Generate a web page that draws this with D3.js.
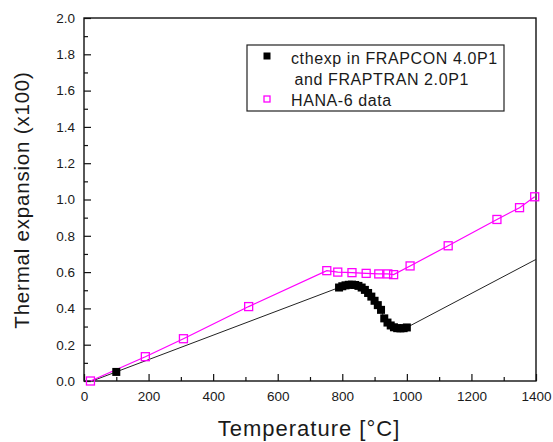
<!DOCTYPE html>
<html>
<head>
<meta charset="utf-8">
<script src="https://cdn.jsdelivr.net/npm/d3@7"></script>
<style>
  html, body { margin: 0; padding: 0; background: #fff; }
  svg { display: block; font-family: "Liberation Sans", Arial, sans-serif; }
</style>
</head>
<body>
<svg id="chart" width="553" height="442"></svg>
<script>
// FRAPCON / FRAPTRAN cthexp model: straight segments outside the phase-transition band
const cthexpLineTemp = [25, 790];
const cthexpLineValue = [0.0, 0.515];
const cthexpLineTemp2 = [1000, 1400];
const cthexpLineValue2 = [0.295, 0.67];

// cthexp model points shown with markers (low-temperature point and transition band)
const cthexpTemp = [100,
  790, 800, 810, 820, 830, 840, 850, 860, 870, 880, 890, 900, 910, 920,
  930, 940, 950, 960, 970, 980, 990, 1000];
const cthexpValue = [0.05,
  0.515, 0.522, 0.527, 0.530, 0.531, 0.529, 0.524, 0.515, 0.502, 0.485, 0.465, 0.442, 0.418, 0.392,
  0.345, 0.322, 0.306, 0.296, 0.291, 0.290, 0.291, 0.295];

// HANA-6 measured data
const hanaTemp = [20, 190, 308, 510, 752, 786, 830, 874, 913, 941, 959, 1010, 1128, 1279, 1349, 1396];
const hanaValue = [0.0, 0.134, 0.233, 0.41, 0.608, 0.60, 0.597, 0.593, 0.59, 0.59, 0.586, 0.634, 0.745, 0.89, 0.955, 1.015];

// Axis ticks
const xMajorTicks = [0, 200, 400, 600, 800, 1000, 1200, 1400];
const xMinorTicks = [100, 300, 500, 700, 900, 1100, 1300];
const yMajorTicks = [0, 0.2, 0.4, 0.6, 0.8, 1.0, 1.2, 1.4, 1.6, 1.8, 2.0];
const yMinorTicks = [0.1, 0.3, 0.5, 0.7, 0.9, 1.1, 1.3, 1.5, 1.7, 1.9];

const legendLabels = ["cthexp in FRAPCON 4.0P1", "and FRAPTRAN 2.0P1", "HANA-6 data"];

const svg = d3.select("#chart");
const margin = { left: 84, right: 17, top: 18, bottom: 61 };
const W = 553, H = 442;
const x = d3.scaleLinear().domain([0, 1400]).range([margin.left, W - margin.right]);
const y = d3.scaleLinear().domain([0, 2.0]).range([H - margin.bottom, margin.top]);

const magenta = "#ff00ff";
const textColor = "#1a1a1a";

// Frame
svg.append("rect")
  .attr("x", x(0)).attr("y", y(2))
  .attr("width", x(1400) - x(0)).attr("height", y(0) - y(2))
  .attr("fill", "none").attr("stroke", "#111").attr("stroke-width", 1.4);

// Bottom axis, inward ticks
const gx = svg.append("g").attr("transform", `translate(0,${y(0)})`)
  .call(d3.axisBottom(x).tickValues(xMajorTicks).tickSize(-7).tickPadding(10).tickFormat(d3.format("d")));
const gxm = svg.append("g").attr("transform", `translate(0,${y(0)})`)
  .call(d3.axisBottom(x).tickValues(xMinorTicks).tickSize(-4).tickFormat(""));

// Left axis, inward ticks
const gy = svg.append("g").attr("transform", `translate(${x(0)},0)`)
  .call(d3.axisLeft(y).tickValues(yMajorTicks).tickSize(-7).tickPadding(9).tickFormat(d3.format(".1f")));
const gym = svg.append("g").attr("transform", `translate(${x(0)},0)`)
  .call(d3.axisLeft(y).tickValues(yMinorTicks).tickSize(-4).tickFormat(""));

[gx, gxm, gy, gym].forEach(g => {
  g.select(".domain").remove();
  g.selectAll(".tick line").attr("stroke", "#111").attr("stroke-width", 1.2);
  g.selectAll("text").attr("fill", textColor).style("font-size", "13.5px")
    .style("font-family", "'Liberation Sans', Arial, sans-serif");
});

// Axis titles
svg.append("text")
  .attr("x", 309).attr("y", 436)
  .attr("text-anchor", "middle").attr("fill", textColor)
  .style("font-size", "22px").style("letter-spacing", "1px")
  .text("Temperature [\u00B0C]");

svg.append("text")
  .attr("transform", `translate(29,200) rotate(-90)`)
  .attr("text-anchor", "middle").attr("fill", textColor)
  .style("font-size", "20.5px").style("letter-spacing", "0.8px")
  .text("Thermal expansion (x100)");

const line = d3.line().x(d => x(d[0])).y(d => y(d[1]));
const plot = svg.append("g");

// cthexp model line (straight segments plus transition band)
const bandPts = cthexpTemp.slice(1).map((t, i) => [t, cthexpValue[i + 1]]);
const cthexpPath = cthexpLineTemp.map((t, i) => [t, cthexpLineValue[i]])
  .concat(bandPts)
  .concat(cthexpLineTemp2.map((t, i) => [t, cthexpLineValue2[i]]));
plot.append("path").datum(cthexpPath)
  .attr("d", line).attr("fill", "none").attr("stroke", "#222").attr("stroke-width", 1);

// HANA-6 line
const hanaPts = hanaTemp.map((t, i) => [t, hanaValue[i]]);
plot.append("path").datum(hanaPts)
  .attr("d", line).attr("fill", "none").attr("stroke", magenta).attr("stroke-width", 1.2);

// cthexp markers
const bs = 8;
plot.selectAll("rect.cth").data(cthexpTemp.map((t, i) => [t, cthexpValue[i]]))
  .join("rect").attr("class", "cth")
  .attr("x", d => x(d[0]) - bs / 2).attr("y", d => y(d[1]) - bs / 2)
  .attr("width", bs).attr("height", bs).attr("fill", "#000");

// HANA-6 markers (hollow squares)
const hs = 8;
plot.selectAll("rect.hana").data(hanaPts)
  .join("rect").attr("class", "hana")
  .attr("x", d => x(d[0]) - hs / 2).attr("y", d => y(d[1]) - hs / 2)
  .attr("width", hs).attr("height", hs)
  .attr("fill", "none").attr("stroke", magenta).attr("stroke-width", 1.3);

// Legend
const lg = svg.append("g");
lg.append("rect").attr("x", 247).attr("y", 45).attr("width", 257).attr("height", 66)
  .attr("fill", "#fff").attr("stroke", "#222").attr("stroke-width", 1.2);
lg.append("rect").attr("x", 263.5).attr("y", 52.5).attr("width", 7).attr("height", 7).attr("fill", "#000");
lg.append("rect").attr("x", 264).attr("y", 96).attr("width", 6).attr("height", 6)
  .attr("fill", "none").attr("stroke", magenta).attr("stroke-width", 1.3);
const legendPos = [[291, 63.5], [294.5, 85], [291, 105.5]];
legendLabels.forEach((s, i) => {
  lg.append("text").attr("x", legendPos[i][0]).attr("y", legendPos[i][1])
    .attr("fill", textColor).style("font-size", "16px").style("letter-spacing", "0.6px").text(s);
});
</script>
</body>
</html>
